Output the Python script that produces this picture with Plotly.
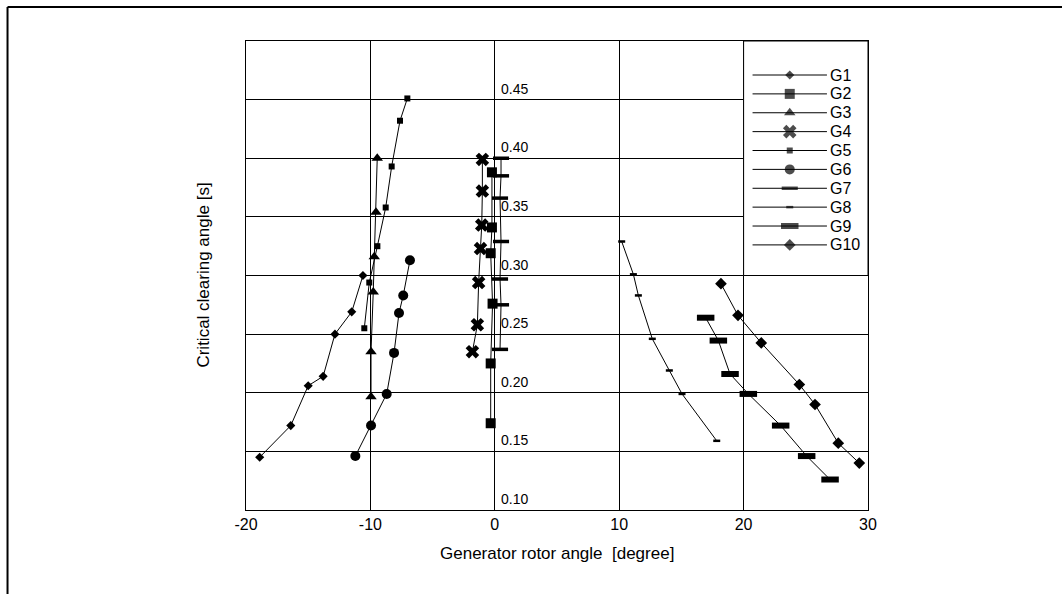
import plotly.graph_objects as go

# ---- data ----
names = ["G1", "G2", "G3", "G4", "G5", "G6", "G7", "G8", "G9", "G10"]

g1_x = [-18.9, -16.4, -15.0, -13.8, -12.85, -11.5, -10.6]
g1_y = [0.145, 0.172, 0.206, 0.214, 0.250, 0.269, 0.300]

g2_x = [-0.33, -0.33, -0.18, -0.33, -0.23, -0.23]
g2_y = [0.174, 0.225, 0.276, 0.319, 0.341, 0.388]

g3_x = [-9.95, -9.95, -9.77, -9.69, -9.55, -9.45]
g3_y = [0.1965, 0.235, 0.286, 0.316, 0.354, 0.400]

g4_x = [-1.8, -1.4, -1.3, -1.15, -1.05, -1.0, -1.0]
g4_y = [0.235, 0.258, 0.294, 0.323, 0.343, 0.372, 0.399]

g5_x = [-10.49, -10.09, -9.44, -8.77, -8.29, -7.62, -7.03]
g5_y = [0.255, 0.294, 0.325, 0.358, 0.393, 0.432, 0.451]

g6_x = [-11.21, -9.95, -8.69, -8.10, -7.70, -7.36, -6.82]
g6_y = [0.146, 0.172, 0.199, 0.234, 0.268, 0.283, 0.313]

g7_x = [0.42, 0.5, 0.42, 0.5, 0.42, 0.5, 0.5]
g7_y = [0.237, 0.275, 0.297, 0.329, 0.366, 0.385, 0.400]

g8_x = [17.84, 15.05, 14.03, 12.66, 11.54, 11.14, 10.20]
g8_y = [0.159, 0.199, 0.219, 0.246, 0.283, 0.301, 0.329]

g9_x = [26.95, 25.07, 22.98, 20.38, 18.91, 17.97, 16.95]
g9_y = [0.126, 0.146, 0.172, 0.199, 0.216, 0.2445, 0.264]

g10_x = [29.3, 27.61, 25.74, 24.48, 21.42, 19.55, 18.18]
g10_y = [0.140, 0.157, 0.190, 0.207, 0.2425, 0.266, 0.293]

x_ticks = [-20, -10, 0, 10, 20, 30]
x_tick_labels = ["-20", "-10", "0", "10", "20", "30"]
y_ticks = [0.10, 0.15, 0.20, 0.25, 0.30, 0.35, 0.40, 0.45]
y_tick_labels = ["0.10", "0.15", "0.20", "0.25", "0.30", "0.35", "0.40", "0.45"]

xs = [g1_x, g2_x, g3_x, g4_x, g5_x, g6_x, g7_x, g8_x, g9_x, g10_x]
ys = [g1_y, g2_y, g3_y, g4_y, g5_y, g6_y, g7_y, g8_y, g9_y, g10_y]

# ---- styles ----
symbols = ["diamond", "square", "triangle-up", "x", "square", "circle",
           "line-ew", "line-ew", "line-ew", "diamond"]
sizes = [7, 10, 10, 12, 6, 10, 11.5, 5, 12.5, 9]
line_widths = [0, 0, 0, 0, 0, 0, 3.5, 2.5, 6, 0]

FONT = "Liberation Sans, Arial, Helvetica, sans-serif"
X_MIN, X_MAX, Y_MIN, Y_MAX = -20, 30, 0.10, 0.50

fig = go.Figure()
for n, x, y, s, sz, lw in zip(names, xs, ys, symbols, sizes, line_widths):
    fig.add_trace(go.Scatter(
        x=x, y=y, name=n, mode="lines+markers", showlegend=False,
        line=dict(color="black", width=1),
        marker=dict(symbol=s, size=sz, color="black",
                    line=dict(color="black", width=lw)),
    ))

# ---- legend box (top-right quarter of the plot: x 20..30, y 0.30..0.50) ----
LEG_X0, LEG_X1, LEG_Y0, LEG_Y1 = 20, X_MAX, 0.30, Y_MAX
fig.add_shape(type="rect", xref="x", yref="y", x0=LEG_X0, x1=LEG_X1,
              y0=LEG_Y0, y1=LEG_Y1, layer="between",
              fillcolor="white", line=dict(color="black", width=1))
row_top = LEG_Y1 - 0.029      # centre of first row
row_step = 0.0161             # spacing between rows (data units)
line_x0, line_x1 = LEG_X0 + 0.72, LEG_X0 + 6.7
mark_x = (line_x0 + line_x1) / 2
text_x = LEG_X0 + 6.75
row_y = [row_top - i * row_step for i in range(len(names))]
for n, ry in zip(names, row_y):
    fig.add_shape(type="line", xref="x", yref="y", x0=line_x0, x1=line_x1,
                  y0=ry, y1=ry, layer="between",
                  line=dict(color="black", width=1))
    fig.add_annotation(x=text_x, y=ry, xref="x", yref="y", text=n,
                       showarrow=False, xanchor="left", yanchor="middle",
                       font=dict(family=FONT, size=16, color="black"))
fig.add_trace(go.Scatter(
    x=[mark_x] * len(names), y=row_y, mode="markers", showlegend=False,
    hoverinfo="skip",
    marker=dict(symbol=symbols, size=sizes, color="black",
                line=dict(color="black", width=line_widths)),
))

# y tick labels drawn next to x = 0, just above each gridline
for v, t in zip(y_ticks, y_tick_labels):
    fig.add_annotation(x=0, y=v, xref="x", yref="y", text=t, showarrow=False,
                       xanchor="left", yanchor="bottom", xshift=4, yshift=1,
                       font=dict(family=FONT, size=14, color="black"))

# axis titles
fig.add_annotation(x=0.5, y=-0.0917, xref="paper", yref="paper",
                   text="Generator rotor angle  [degree]", showarrow=False,
                   xanchor="center", yanchor="middle",
                   font=dict(family=FONT, size=17, color="black"))
fig.add_annotation(x=-0.069, y=0.5, xref="paper", yref="paper",
                   text="Critical clearing angle [s]", showarrow=False,
                   textangle=-90, xanchor="center", yanchor="middle",
                   font=dict(family=FONT, size=17, color="black"))

# outer frame (top and left edges)
fig.add_shape(type="line", xref="paper", yref="paper",
              x0=-0.3834, x1=1.4, y0=1.0725, y1=1.0725,
              line=dict(color="black", width=2))
fig.add_shape(type="line", xref="paper", yref="paper",
              x0=-0.3834, x1=-0.3834, y0=1.0725, y1=-0.3,
              line=dict(color="black", width=2))

fig.update_xaxes(range=[X_MIN, X_MAX], tickvals=x_ticks, ticktext=x_tick_labels,
                 ticks="", showgrid=True, gridcolor="black", gridwidth=1,
                 showline=True, linecolor="black", linewidth=1, mirror=True,
                 zeroline=False,
                 tickfont=dict(family=FONT, size=16, color="black"))
fig.update_yaxes(range=[Y_MIN, Y_MAX], tickvals=y_ticks, showticklabels=False,
                 ticks="", showgrid=True, gridcolor="black", gridwidth=1,
                 showline=True, linecolor="black", linewidth=1, mirror=True,
                 zeroline=False)

fig.update_layout(
    width=1062, height=594,
    margin=dict(l=246, r=194, t=41, b=84),
    paper_bgcolor="white", plot_bgcolor="white",
    showlegend=False,
    font=dict(family=FONT, color="black"),
)

fig.write_html("out.html", config={"displayModeBar": False},
               post_script="document.body.style.margin='0';")
